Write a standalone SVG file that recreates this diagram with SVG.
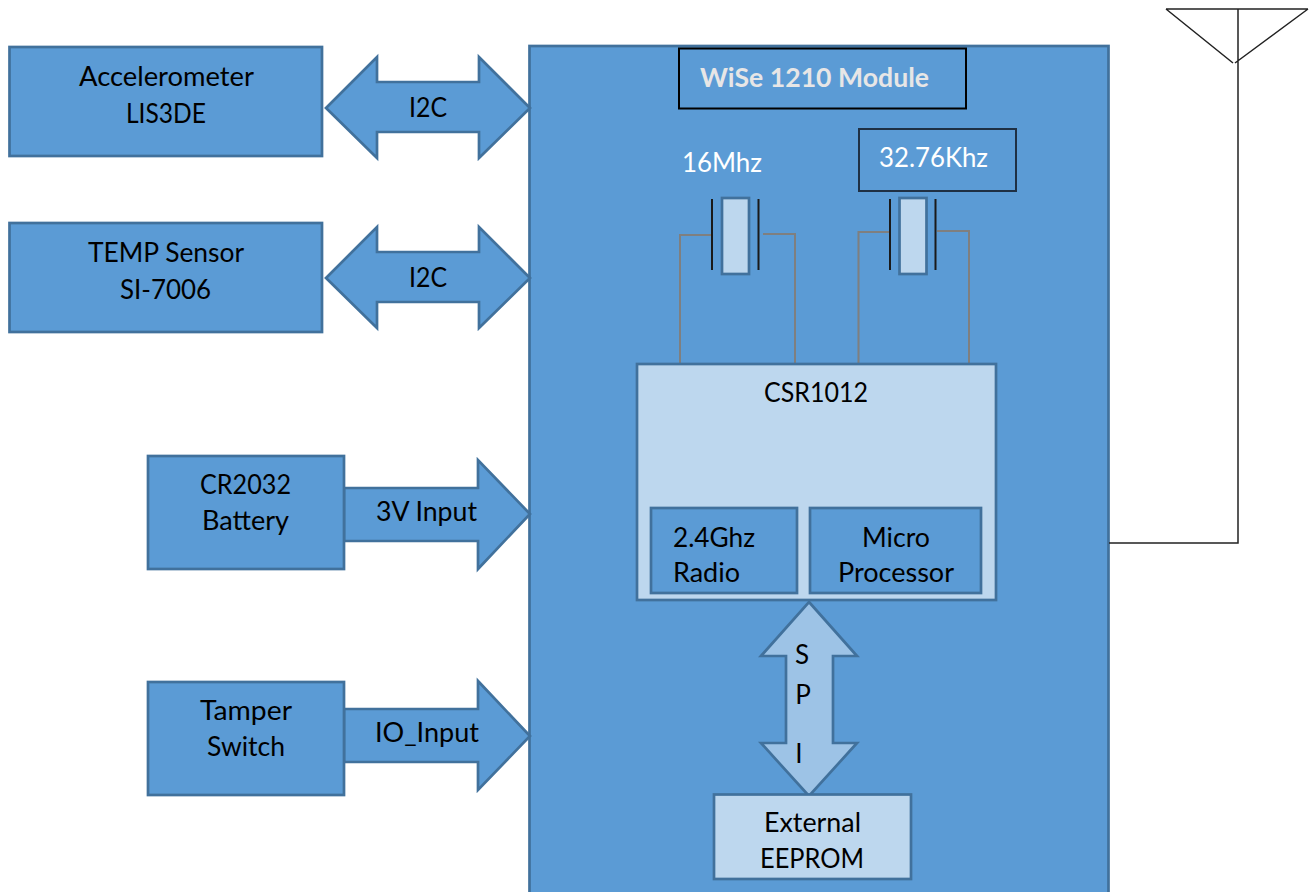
<svg xmlns="http://www.w3.org/2000/svg" width="1314" height="892" viewBox="0 0 1314 892">
<style>
.b{fill:#5b9bd5;stroke:#41719c;stroke-width:2.700}
.l{fill:#bdd7ee;stroke:#41719c;stroke-width:2.700}
.k{fill:none;stroke:#1a1a1a;stroke-width:2}
.g{fill:none;stroke:#7f7f7f;stroke-width:2}
.a{fill:none;stroke:#222;stroke-width:1.500}
text{font-family:Lato,"Liberation Sans",sans-serif;font-size:26px;fill:#000;text-anchor:middle}
.w{fill:#fff}
</style>
<rect width="1314" height="892" fill="#fff"/>
<g id="module">
<rect class="b" x="529.500" y="46" width="579" height="860"/>
<rect x="679" y="48.500" width="287" height="60" fill="none" stroke="#000" stroke-width="2"/>
<text x="814.500" y="87" font-weight="700" textLength="229" lengthAdjust="spacingAndGlyphs" style="fill:#e7e6e6">WiSe 1210 Module</text>
</g>
<g id="antenna">
<path class="a" d="M1166 9H1308M1166 9L1233 63M1308 9L1235 63M1238 9V543H1109"/>
</g>
<g id="connectors">
<path class="g" d="M680 366V235H712M763 234H795V364M858.500 363V232H890M937 231H969V363"/>
<path id="i2c1" class="b" d="M326 108L377 57V82H479V57L530 108L479 158V132H377V158Z"/>
<path id="i2c2" class="b" d="M326 278L377 227V252H479V227L530 278L479 328V302H377V328Z"/>
<path id="v3" class="b" d="M344 488H478V460L530 514L478 569V541H344Z"/>
<path id="io" class="b" d="M344 709H478V681L530 736L478 790V762H344Z"/>
<path id="spi" d="M809 602L857 656H833V743H857L809 796L761 743H786V656H761Z" fill="#9dc3e6" stroke="#41719c" stroke-width="2.700"/>
</g>
<g id="accelerometer"><rect class="b" x="9.500" y="47" width="312.500" height="109"/><text x="166.500" y="86" textLength="175" lengthAdjust="spacingAndGlyphs">Accelerometer</text><text x="166" y="123" textLength="80" lengthAdjust="spacingAndGlyphs">LIS3DE</text></g>
<g id="temp"><rect class="b" x="9.500" y="223" width="312.500" height="109"/><text x="166" y="262" textLength="156" lengthAdjust="spacingAndGlyphs">TEMP Sensor</text><text x="165.500" y="299" textLength="91" lengthAdjust="spacingAndGlyphs">SI-7006</text></g>
<g id="battery"><rect class="b" x="148" y="456" width="196" height="113"/><text x="245.500" y="494" textLength="91" lengthAdjust="spacingAndGlyphs">CR2032</text><text x="245.500" y="530" textLength="87" lengthAdjust="spacingAndGlyphs">Battery</text></g>
<g id="tamper"><rect class="b" x="148" y="682" width="196" height="113"/><text x="246" y="720" textLength="92" lengthAdjust="spacingAndGlyphs">Tamper</text><text x="246" y="756" textLength="78" lengthAdjust="spacingAndGlyphs">Switch</text></g>
<g id="labels">
<text x="428" y="117" textLength="38" lengthAdjust="spacingAndGlyphs">I2C</text><text x="428" y="287" textLength="38" lengthAdjust="spacingAndGlyphs">I2C</text>
<text x="426.500" y="521" textLength="101" lengthAdjust="spacingAndGlyphs">3V Input</text><text x="427" y="742" textLength="104" lengthAdjust="spacingAndGlyphs">IO_Input</text>
<text x="802" y="664">S</text><text x="803" y="704">P</text><text x="799" y="763">I</text>
</g>
<g id="xtal16"><rect class="l" x="722" y="198" width="27" height="76"/><path class="k" d="M712 199V270M758.500 199V270"/><text class="w" x="722" y="172" textLength="80" lengthAdjust="spacingAndGlyphs">16Mhz</text></g>
<g id="xtal32"><rect class="l" x="899.500" y="198" width="27" height="76"/><path class="k" d="M890 199V270M935.500 199V270"/><rect x="859" y="129" width="157" height="62" fill="none" stroke="#1f3044" stroke-width="2"/><text class="w" x="933.500" y="167" textLength="109" lengthAdjust="spacingAndGlyphs">32.76Khz</text></g>
<g id="csr"><rect class="l" x="637" y="364" width="359" height="236"/><text x="816" y="402" textLength="104" lengthAdjust="spacingAndGlyphs">CSR1012</text></g>
<g id="radio"><rect class="b" x="651" y="508" width="146" height="85"/><text x="714" y="547" textLength="82" lengthAdjust="spacingAndGlyphs">2.4Ghz</text><text x="706.500" y="582" textLength="67" lengthAdjust="spacingAndGlyphs">Radio</text></g>
<g id="micro"><rect class="b" x="810" y="508" width="171" height="85"/><text x="896" y="547" textLength="68" lengthAdjust="spacingAndGlyphs">Micro</text><text x="896" y="582" textLength="116" lengthAdjust="spacingAndGlyphs">Processor</text></g>
<g id="eeprom"><rect class="l" x="714" y="794.500" width="197" height="84.500"/><text x="812.500" y="832" textLength="97" lengthAdjust="spacingAndGlyphs">External</text><text x="812" y="868" textLength="104" lengthAdjust="spacingAndGlyphs">EEPROM</text></g>
</svg>
